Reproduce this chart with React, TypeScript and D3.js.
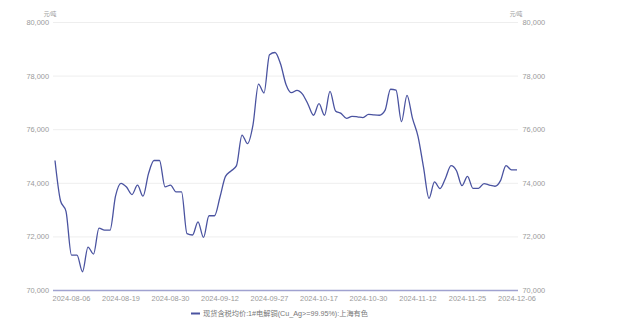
import React from "react";
import * as d3 from "d3";

const dates: string[] = [
  "2024-08-01","2024-08-02","2024-08-05","2024-08-06","2024-08-07","2024-08-08","2024-08-09","2024-08-12","2024-08-13","2024-08-14",
  "2024-08-15","2024-08-16","2024-08-19","2024-08-20","2024-08-21","2024-08-22","2024-08-23","2024-08-26","2024-08-27","2024-08-28",
  "2024-08-29","2024-08-30","2024-09-02","2024-09-03","2024-09-04","2024-09-05","2024-09-06","2024-09-09","2024-09-10","2024-09-11",
  "2024-09-12","2024-09-13","2024-09-18","2024-09-19","2024-09-20","2024-09-23","2024-09-24","2024-09-25","2024-09-26","2024-09-27",
  "2024-09-30","2024-10-08","2024-10-09","2024-10-10","2024-10-11","2024-10-14","2024-10-15","2024-10-16","2024-10-17","2024-10-18",
  "2024-10-21","2024-10-22","2024-10-23","2024-10-24","2024-10-25","2024-10-28","2024-10-29","2024-10-30","2024-10-31","2024-11-01",
  "2024-11-04","2024-11-05","2024-11-06","2024-11-07","2024-11-08","2024-11-11","2024-11-12","2024-11-13","2024-11-14","2024-11-15",
  "2024-11-18","2024-11-19","2024-11-20","2024-11-21","2024-11-22","2024-11-25","2024-11-26","2024-11-27","2024-11-28","2024-11-29",
  "2024-12-02","2024-12-03","2024-12-04","2024-12-05","2024-12-06",
];

const prices: number[] = [
  74850, 73350, 72950, 71320, 71320, 70700, 71620, 71360, 72330, 72250,
  72250, 73520, 74000, 73860, 73580, 73930, 73520, 74360, 74850, 74850,
  73870, 73930, 73680, 73680, 72120, 72070, 72560, 71980, 72790, 72790,
  73490, 74260, 74460, 74660, 75800, 75480, 76180, 77700, 77370, 78800,
  78880, 78460, 77690, 77380, 77470, 77330, 76950, 76540, 76970, 76540,
  77430, 76700, 76610, 76420, 76500, 76480, 76450, 76570, 76550, 76540,
  76720, 77510, 77480, 76300, 77280, 76420, 75750, 74600, 73440, 74050,
  73800, 74190, 74660, 74470, 73910, 74260, 73810, 73810, 73990, 73930,
  73890, 74100, 74660, 74500, 74500,
];

const yTicks: number[] = [70000, 72000, 74000, 76000, 78000, 80000];
const xLabelDates: string[] = [
  "2024-08-06","2024-08-19","2024-08-30","2024-09-12","2024-09-27",
  "2024-10-17","2024-10-30","2024-11-12","2024-11-25","2024-12-06",
];
const unitLabel = "元/吨";
const seriesName = "现货含税均价:1#电解铜(Cu_Ag>=99.95%):上海有色";

const W = 632;
const H = 321;
const left = 55;
const right = 517;
const top = 22.5;
const bottom = 290.5;
const FONT = "'Liberation Sans', 'Noto Sans CJK SC', sans-serif";
const LINE = "#4a53a0";
const TXT = "#9a9a9a";

export default function App() {
  const x = d3.scalePoint<string>().domain(dates).range([left, right]);
  const y = d3.scaleLinear().domain([70000, 80000]).range([bottom, top]);
  const line = d3
    .line<number>()
    .x((_, i) => x(dates[i]) as number)
    .y((d) => y(d))
    .curve(d3.curveMonotoneX);
  const path = line(prices) || "";

  return (
    <svg
      width={W}
      height={H}
      style={{ position: "absolute", left: 0, top: 0, display: "block", background: "#fff" }}
      fontFamily={FONT}
    >
      {yTicks.map((t) =>
        t === 70000 ? null : (
          <line key={"g" + t} x1={left - 2} x2={right + 1} y1={y(t)} y2={y(t)} stroke="#eeeeee" strokeWidth={1} />
        )
      )}
      <line x1={left - 2} x2={right + 1} y1={y(70000)} y2={y(70000)} stroke="#a0a2d0" strokeWidth={1.3} />
      {yTicks.map((t) => (
        <text key={"l" + t} x={49} y={y(t)} dy="0.35em" textAnchor="end" fontSize={7.4} fill={TXT}>
          {d3.format(",")(t)}
        </text>
      ))}
      {yTicks.map((t) => (
        <text key={"r" + t} x={522.5} y={y(t)} dy="0.35em" textAnchor="start" fontSize={7.4} fill={TXT}>
          {d3.format(",")(t)}
        </text>
      ))}
      <text x={50} y={16} textAnchor="middle" fontSize={5.6} fill={TXT}>{unitLabel}</text>
      <text x={516} y={16} textAnchor="middle" fontSize={5.6} fill={TXT}>{unitLabel}</text>
      {xLabelDates.map((d) => (
        <text key={"x" + d} x={x(d) as number} y={300.5} textAnchor="middle" fontSize={7.4} fill={TXT}>
          {d}
        </text>
      ))}
      <path d={path} fill="none" stroke={LINE} strokeWidth={1.3} strokeLinejoin="round" />
      <line x1={191} x2={200} y1={313.5} y2={313.5} stroke={LINE} strokeWidth={2} />
      <text x={203} y={313.5} dy="0.35em" fontSize={7.2} fill="#777">{seriesName}</text>
    </svg>
  );
}
